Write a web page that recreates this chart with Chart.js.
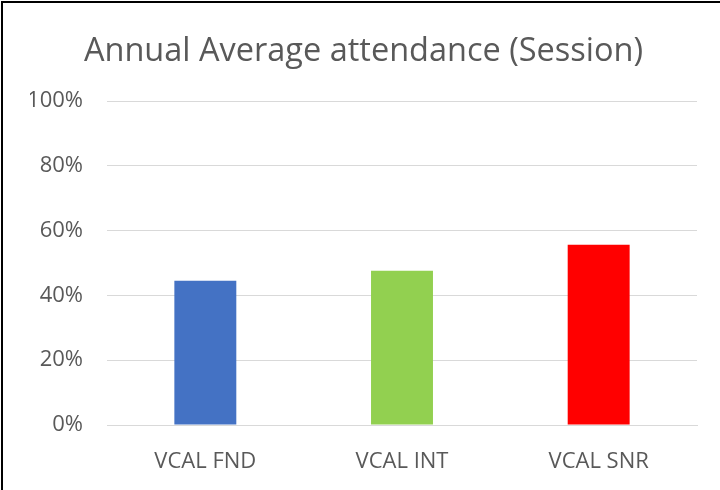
<!DOCTYPE html>
<html>
<head>
<meta charset="utf-8">
<script src="https://cdn.jsdelivr.net/npm/chart.js@4/dist/chart.umd.min.js"></script>
<style>
  html, body { margin: 0; padding: 0; background: #fff; }
  #wrap {
    position: absolute; left: 1px; top: 1px;
    width: 719px; height: 489px;
    border-top: 2px solid #000; border-left: 2px solid #000;
    box-sizing: border-box;
  }
  canvas { display: block; }
</style>
</head>
<body>
<div id="wrap"><canvas id="chart" width="717" height="487"></canvas></div>
<script>
// values
const categories = ["VCAL FND", "VCAL INT", "VCAL SNR"];
const attendance = [44.5, 47.6, 55.6];
const barColors = ["#4472C4", "#92D050", "#FF0000"];
const yTicks = [0, 20, 40, 60, 80, 100];

const textColor = "#595959";
const fontFamily = "'Open Sans', sans-serif";

new Chart(document.getElementById("chart"), {
  type: "bar",
  data: {
    labels: categories,
    datasets: [
      {
        label: "Attendance",
        data: attendance,
        backgroundColor: barColors,
        borderWidth: 0,
        categoryPercentage: 1,
        barPercentage: 0.315,
      },
    ],
  },
  options: {
    responsive: false,
    animation: false,
    layout: { padding: { left: 27, right: 23, top: 0, bottom: 0 } },
    plugins: {
      legend: { display: false },
      tooltip: { enabled: false },
      title: {
        display: true,
        text: "Annual Average attendance (Session)",
        color: textColor,
        font: { family: fontFamily, size: 32.5, weight: "normal" },
        padding: { top: 29, bottom: 30 },
      },
    },
    scales: {
      x: {
        grid: { display: false, drawTicks: false },
        border: { display: true, color: "#d9d9d9", width: 1 },
        ticks: {
          color: textColor,
          padding: 24,
          font: { family: fontFamily, size: 22 },
        },
        afterFit: (scale) => { scale.height = 65; },
      },
      y: {
        min: 0,
        max: 100,
        afterBuildTicks: (scale) => {
          scale.ticks = yTicks.map((v) => ({ value: v }));
        },
        grid: { color: "#d9d9d9", lineWidth: 1, drawTicks: false },
        border: { display: false },
        ticks: {
          color: textColor,
          padding: 24,
          font: { family: fontFamily, size: 22 },
          callback: (v) => v + "%",
        },
        afterFit: (scale) => { scale.width = 77; },
      },
    },
  },
});
</script>
</body>
</html>
